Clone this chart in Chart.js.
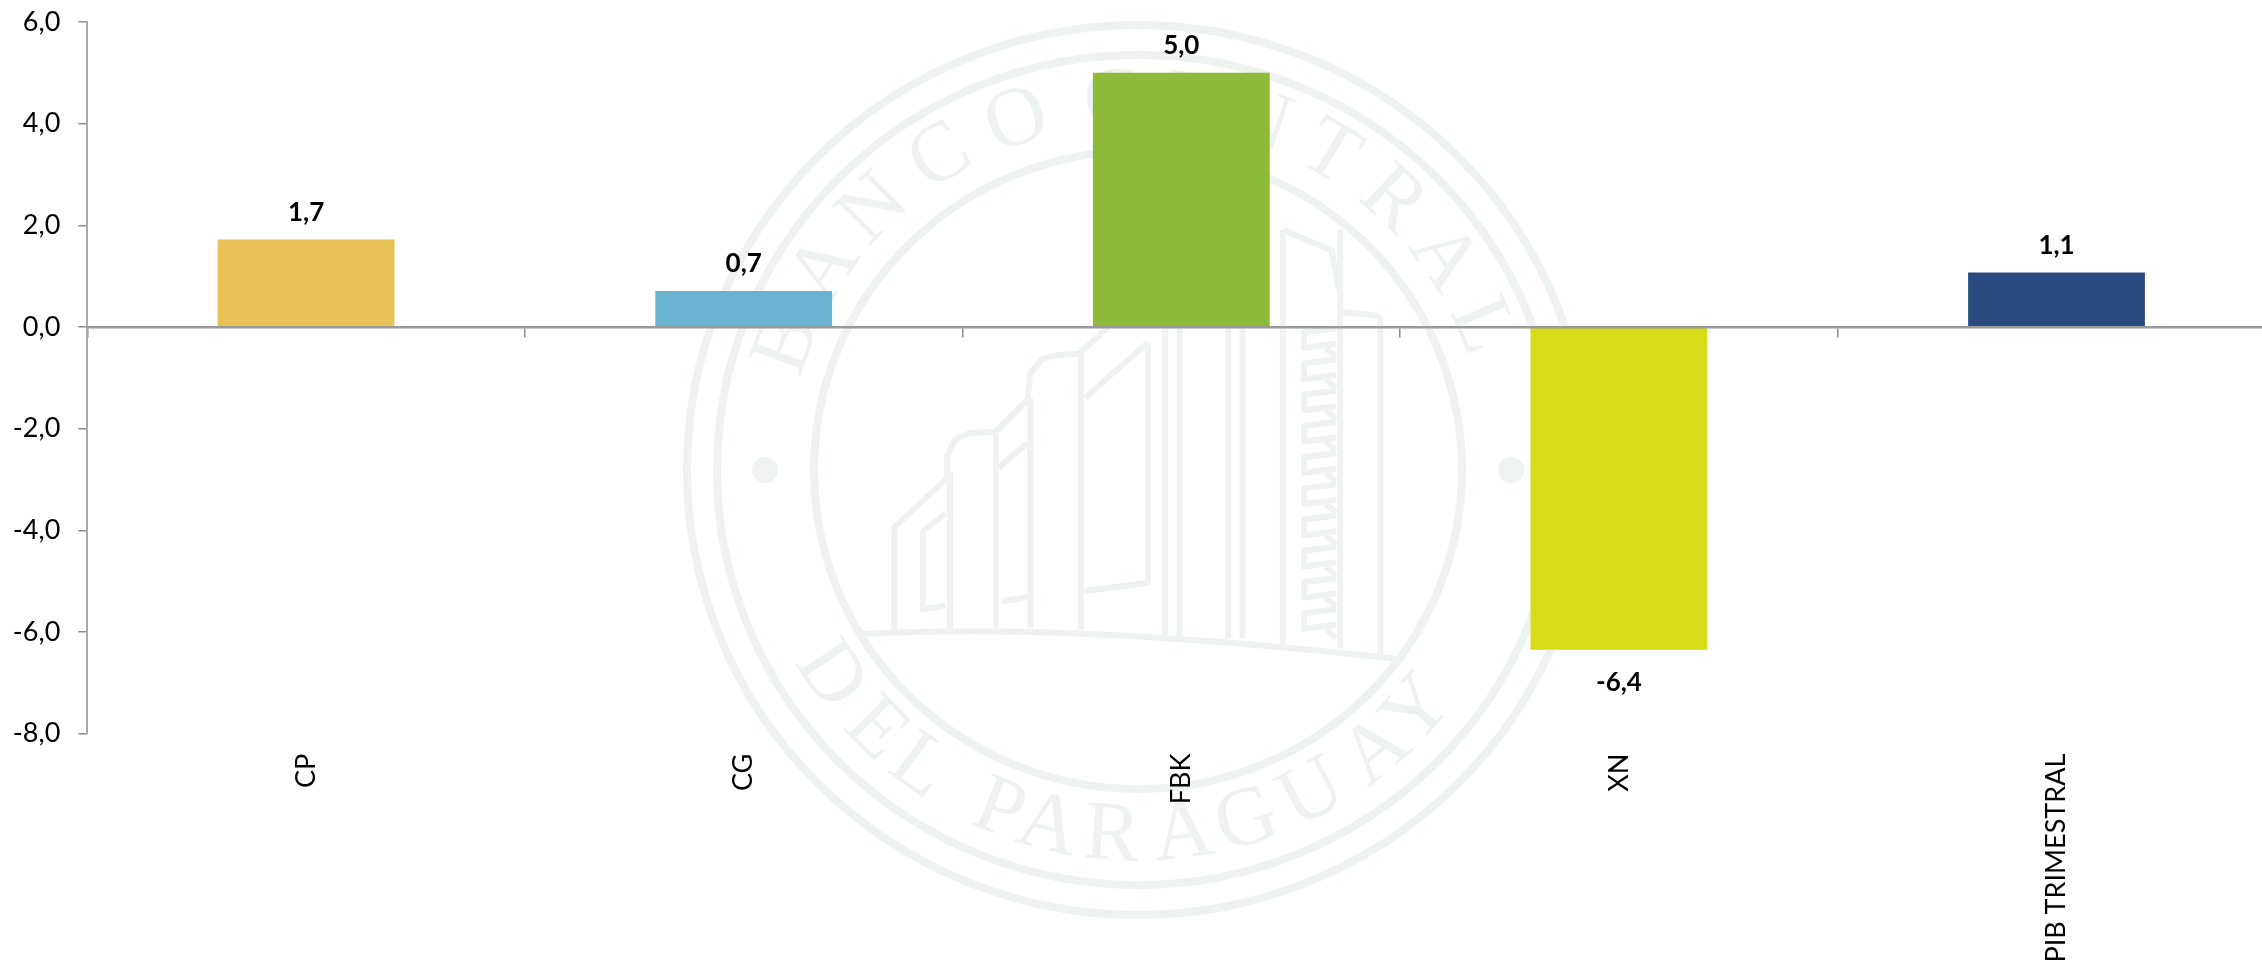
<!DOCTYPE html>
<html><head><meta charset="utf-8">
<style>html,body{margin:0;padding:0;background:#fff;overflow:hidden;width:2262px;height:964px}canvas{display:block}</style>
<script src="https://cdn.jsdelivr.net/npm/chart.js@4"></script></head>
<body><canvas id="c" width="2276" height="1000" style="width:2276px;height:1000px"></canvas>
<script>
const categories = ["CP","CG","FBK","XN","PIB TRIMESTRAL"];
const values = [1.72,0.71,5.0,-6.35,1.07];
const valueLabels = ["1,7","0,7","5,0","-6,4","1,1"];
const barColors = ["#E8C157","#6BB4D1","#8DBA38","#D9DC19","#2A4B80"];
const yTicks = [6,4,2,0,-2,-4,-6,-8];
const FONT = "Lato, 'Open Sans', sans-serif";
const fmt = v => v.toFixed(1).replace('.',',');

// Decorative watermark (bank seal), drawn behind everything
const sealTop = [["B",-70],["A",-57],["N",-45],["C",-32],["O",-19],["C",-4],["E",8],["N",19],["T",31],["R",43],["A",55],["L",67]];
const sealBottom = [["D",-56],["E",-45],["L",-36],["P",-22],["A",-14],["R",-4],["A",7],["G",17],["U",28],["A",40],["Y",49]];
const seal = {
  id:'seal',
  beforeDraw(chart){
    const c = chart.ctx, cx=1138, cy=470, col='#eef2f1';
    c.save();
    c.strokeStyle=col; c.fillStyle=col; c.lineJoin='round';
    [[451,445,8],[421,415,8],[324,319,8]].forEach(([rx,ry,w])=>{c.lineWidth=w;c.beginPath();c.ellipse(cx,cy,rx,ry,0,0,Math.PI*2);c.stroke();});
    [-373,373].forEach(d=>{c.beginPath();c.arc(cx+d,cy,13,0,Math.PI*2);c.fill();});
    c.font="84px 'Liberation Serif', serif";c.textAlign='center';c.textBaseline='middle';
    sealTop.forEach(([ch,d])=>{const a=d*Math.PI/180;c.save();c.translate(cx+372*Math.sin(a),cy-368*Math.cos(a));c.rotate(a);c.fillText(ch,0,0);c.restore();});
    sealBottom.forEach(([ch,d])=>{const a=d*Math.PI/180;c.save();c.translate(cx+372*Math.sin(a),cy+368*Math.cos(a));c.rotate(-a);c.fillText(ch,0,0);c.restore();});
    // building, traced in crop coordinates
    const X=x=>660+x/1.742, Y=y=>320+y/2.435;
    const poly=p=>{c.beginPath();p.forEach(([x,y],i)=>i?c.lineTo(X(x),Y(y)):c.moveTo(X(x),Y(y)));c.stroke();};
    c.lineWidth=6;
    c.beginPath();c.moveTo(X(345),Y(765));c.bezierCurveTo(X(600),Y(745),X(900),Y(765),X(1280),Y(825));c.stroke();
    poly([[408,755],[408,505],[500,385],[500,330],[515,290],[540,275],[585,272],[640,195],[645,130],[665,95],[695,85],[730,82],[790,5]]);
    poly([[498,470],[458,515],[458,705],[498,695]]);
    poly([[505,370],[505,750]]);poly([[585,280],[585,750]]);poly([[645,190],[645,750]]);poly([[733,85],[733,755]]);
    poly([[850,55],[850,640],[740,660]]);poly([[595,685],[640,675]]);
    poly([[590,360],[640,300]]);poly([[740,190],[850,55]]);
    [880,905,990,1015].forEach(x=>poly([[x,-230],[x,775]]));
    poly([[1085,-220],[1085,790]]);poly([[1185,-220],[1185,800]]);poly([[1255,-10],[1255,820]]);
    poly([[1085,-220],[1170,-170],[1185,-60]]);poly([[1185,-20],[1255,-10]]);
    for(let y=20;y<780;y+=76){poly([[1178,y],[1122,y+10],[1122,y+48],[1178,y+38]]);poly([[1160,y+48],[1178,y+70]]);}
    c.restore();
  }
};
const labelsPlugin = {
  id:'valueLabels',
  afterDatasetsDraw(chart){
    const c=chart.ctx, m=chart.getDatasetMeta(0);
    c.save();c.font="bold 26px "+FONT;c.fillStyle='#000';c.textAlign='center';c.textBaseline='middle';
    m.data.forEach((b,i)=>{const up=values[i]>=0;c.fillText(valueLabels[i],b.x,b.y+(up?-27:33));});
    c.restore();
  }
};
const noPad = s => { s.paddingLeft=0; s.paddingRight=0; s.paddingTop=0; s.paddingBottom=0; };
new Chart(document.getElementById('c'),{
  type:'bar',
  data:{labels:categories,datasets:[{data:values,backgroundColor:barColors,barPercentage:0.404,categoryPercentage:1,xAxisID:'x',yAxisID:'y'}]},
  options:{
    responsive:false,animation:false,
    layout:{padding:{top:22,bottom:0,left:0,right:0.7}},
    plugins:{legend:{display:false},tooltip:{enabled:false}},
    scales:{
      x:{
        position:{y:0},
        afterFit(s){s.height=0;noPad(s);},
        grid:{display:true,drawOnChartArea:false,drawTicks:true,tickLength:9,color:'#8c8c8c',lineWidth:1.5,offset:true},
        border:{display:true,color:'#999',width:2.5,z:1},
        ticks:{display:false}
      },
      x2:{
        type:'category',position:'bottom',offset:true,
        afterFit(s){s.height=266.3;noPad(s);},
        grid:{display:false},border:{display:false},
        ticks:{autoSkip:false,minRotation:90,maxRotation:90,padding:12,color:'#000',font:{family:FONT,size:27}}
      },
      y:{
        min:-8,max:6,
        afterFit(s){s.width=87.3;noPad(s);},
        afterBuildTicks(s){s.ticks=yTicks.map(v=>({value:v}));},
        grid:{display:true,drawOnChartArea:false,tickLength:9,color:'#8c8c8c',lineWidth:1.5},
        border:{display:true,color:'#aaa',width:2},
        ticks:{padding:18,color:'#000',font:{family:FONT,size:27},callback:v=>fmt(v)}
      }
    }
  },
  plugins:[seal,labelsPlugin]
});
</script></body></html>
